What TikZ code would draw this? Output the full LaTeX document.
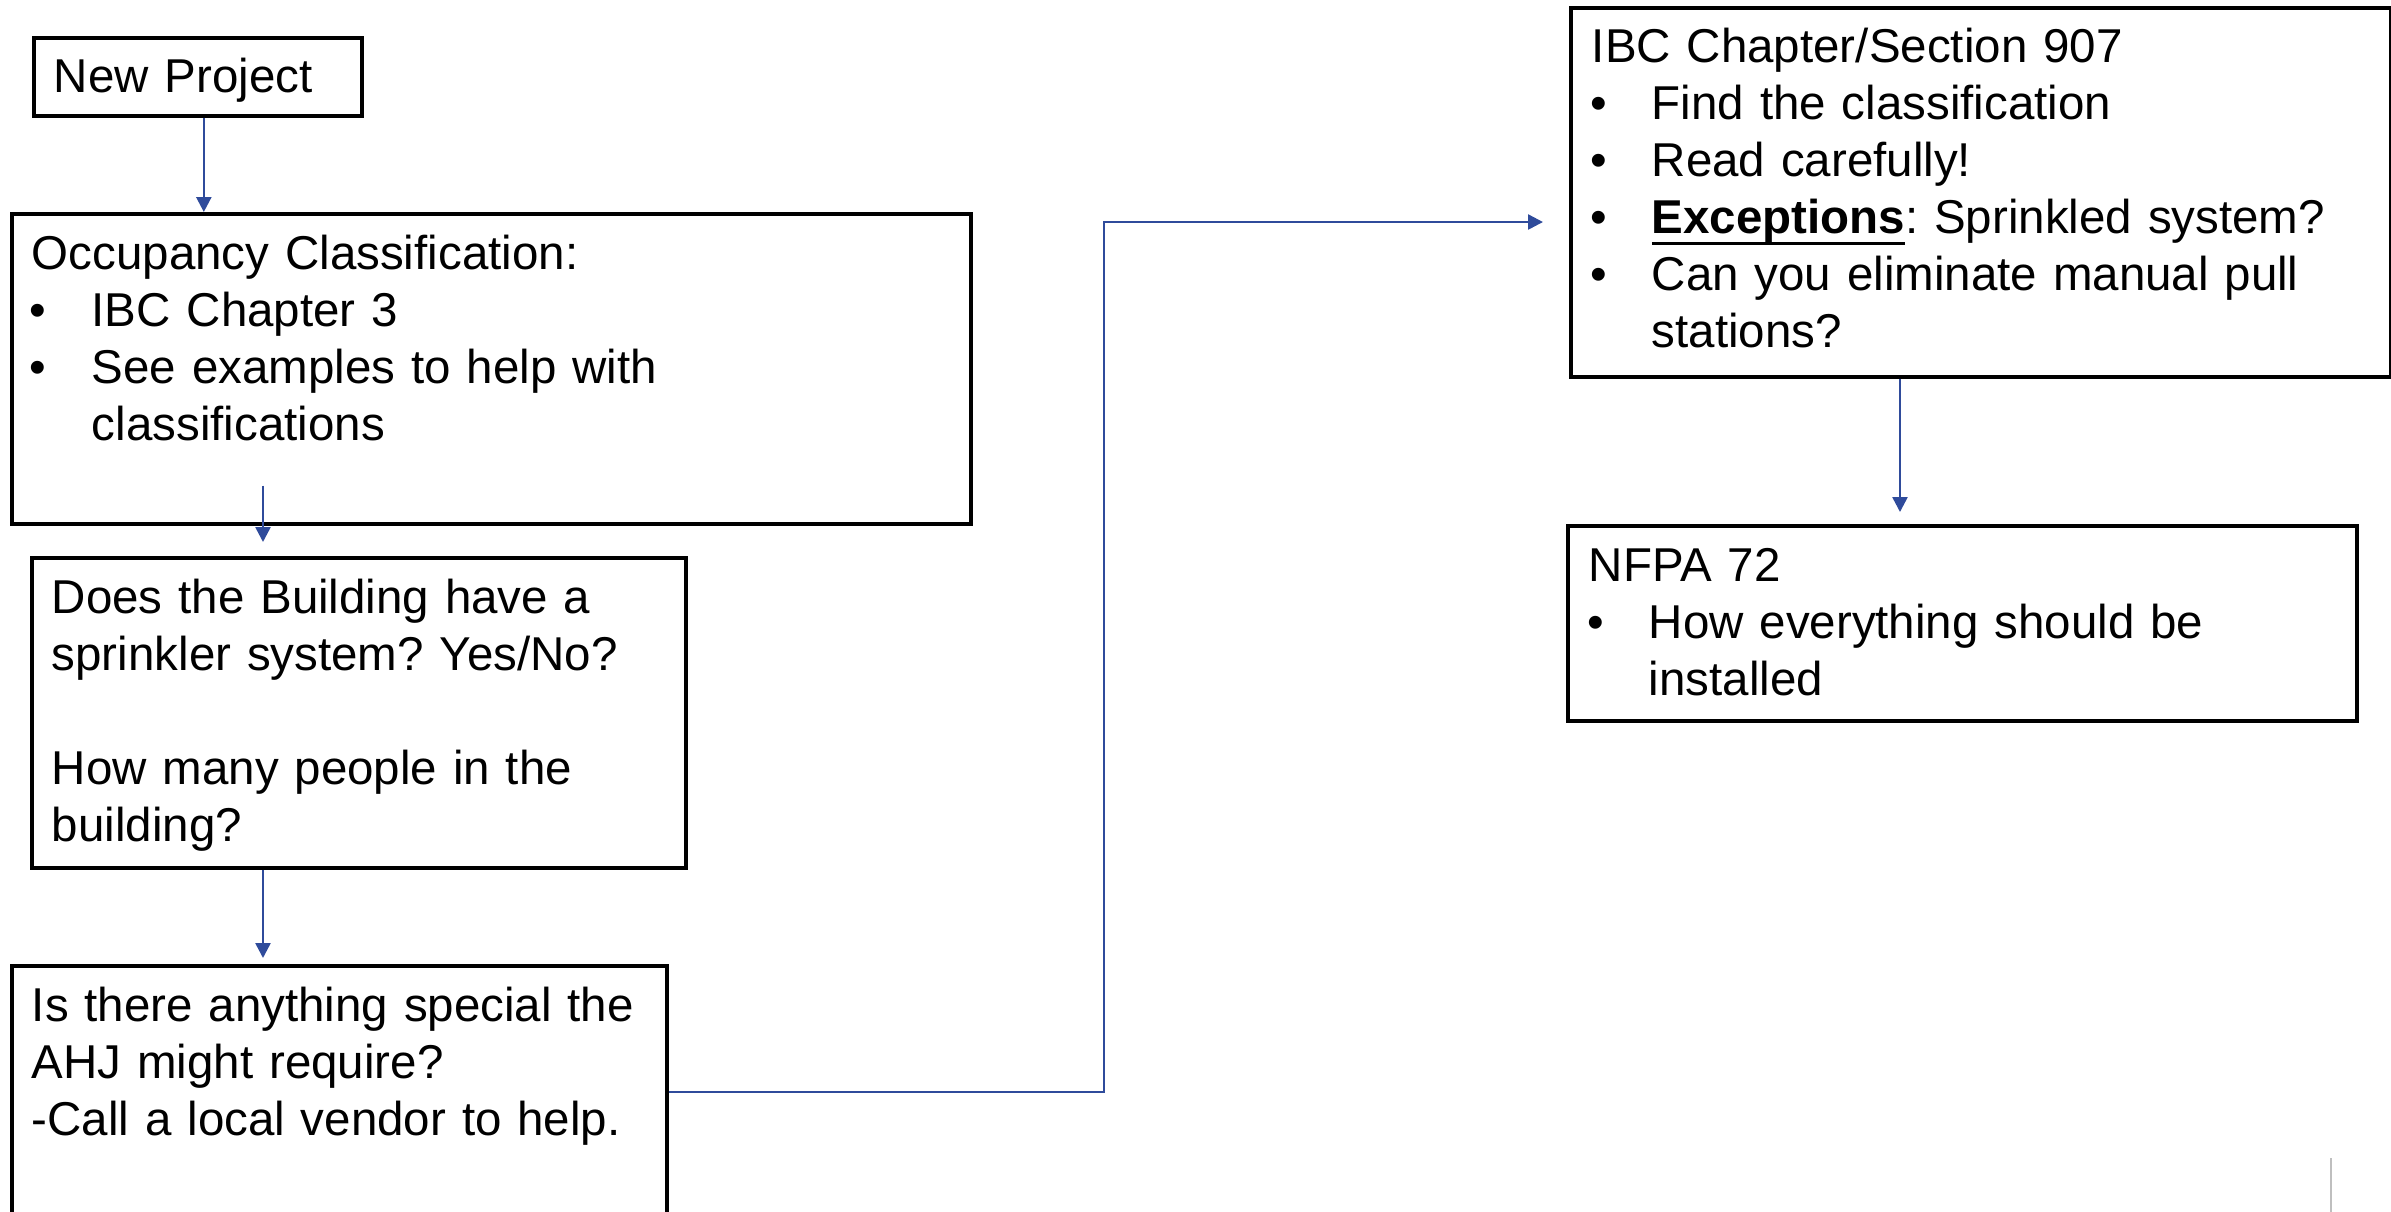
\documentclass[tikz,border=0pt]{standalone}
\usepackage{fontspec}
\setmainfont{Liberation Sans}
\usetikzlibrary{arrows.meta}
\definecolor{flowblue}{HTML}{2F4B9B}
\definecolor{slidegray}{HTML}{BFBFBF}
\frenchspacing
\newsavebox{\ulbox}
\newcommand{\ulin}[1]{\sbox\ulbox{#1}\rlap{\rule[-3.2pt]{\wd\ulbox}{0.85pt}}\usebox\ulbox}
\newcommand{\bulitem}[1]{\par\noindent\hangindent=18pt\hangafter=1\makebox[18pt][l]{\hspace{-0.55pt}\textbullet}#1\par}

\begin{document}
\begin{tikzpicture}[x=0.3pt,y=-0.3pt,
  box/.style={draw,line width=1.1pt,anchor=north west,inner ysep=0pt,inner xsep=6pt,align=left,
    font=\fontsize{14.25pt}{17.1pt}\selectfont},
  flow/.style={-{Triangle[length=4.5pt,width=4.5pt]},line width=0.75pt,flowblue}]

  \useasboundingbox (0,0) rectangle (2391,1211);

  % left column
  \node[box,text width=86.4pt,text height=16.5pt,text depth=6.9pt] (newp) at (32,36) {New Project};
  \node[box,text width=275.7pt,text height=16.8pt,text depth=76.2pt] (occ) at (10,212) {Occupancy Classification:
    \bulitem{IBC Chapter 3}
    \bulitem{See examples to help with\newline classifications}};
  \node[box,text width=184.2pt,text height=16.8pt,text depth=76.2pt] (spr) at (30,556) {Does the Building have a\\
    sprinkler system? Yes/No?\\[17.1pt]
    How many people in the\\
    building?};
  \node[box,text width=184.5pt,text height=16.8pt,text depth=58.8pt] (ahj) at (10,964) {Is there anything special the\\
    AHJ might require?\\
    -Call a local vendor to help.};

  % right column
  \node[box,inner xsep=6.3pt,text width=233.4pt,text height=16.5pt,text depth=94.2pt] (ibc) at (1569,6) {IBC Chapter/Section 907
    \bulitem{Find the classification}
    \bulitem{Read carefully!}
    \bulitem{\ulin{\textbf{Exceptions}}: Sprinkled system?}
    \bulitem{Can you eliminate manual pull\newline stations?}};
  \node[box,inner xsep=6.3pt,text width=224.1pt,text height=16.8pt,text depth=41.7pt] (nfpa) at (1566,524) {NFPA 72
    \bulitem{How everything should be\newline installed}};

  % arrows
  \coordinate (a1top) at ([xshift=1.8pt]newp.south);
  \draw[flow] (a1top) -- (a1top |- occ.north);
  \coordinate (a2top) at ([shift={(75.9pt,12pt)}]occ.south west);
  \draw[flow,shorten >=4.2pt] (a2top) -- (a2top |- spr.north);
  \coordinate (a3top) at ([xshift=69.9pt]spr.south west);
  \draw[flow,shorten >=1.8pt] (a3top) -- (a3top |- ahj.north);
  \coordinate (bend) at (1104,222);
  \draw[flow,shorten >=7.8pt] (ahj.east) -| (bend) -- (bend -| ibc.west);
  \coordinate (a5top) at ([xshift=99.3pt]ibc.south west);
  \draw[flow,shorten >=3.6pt] (a5top) -- (a5top |- nfpa.north);

  % slide edge mark
  \draw[slidegray,line width=0.6pt] (2331,1158) -- (2331,1215);
\end{tikzpicture}
\end{document}
